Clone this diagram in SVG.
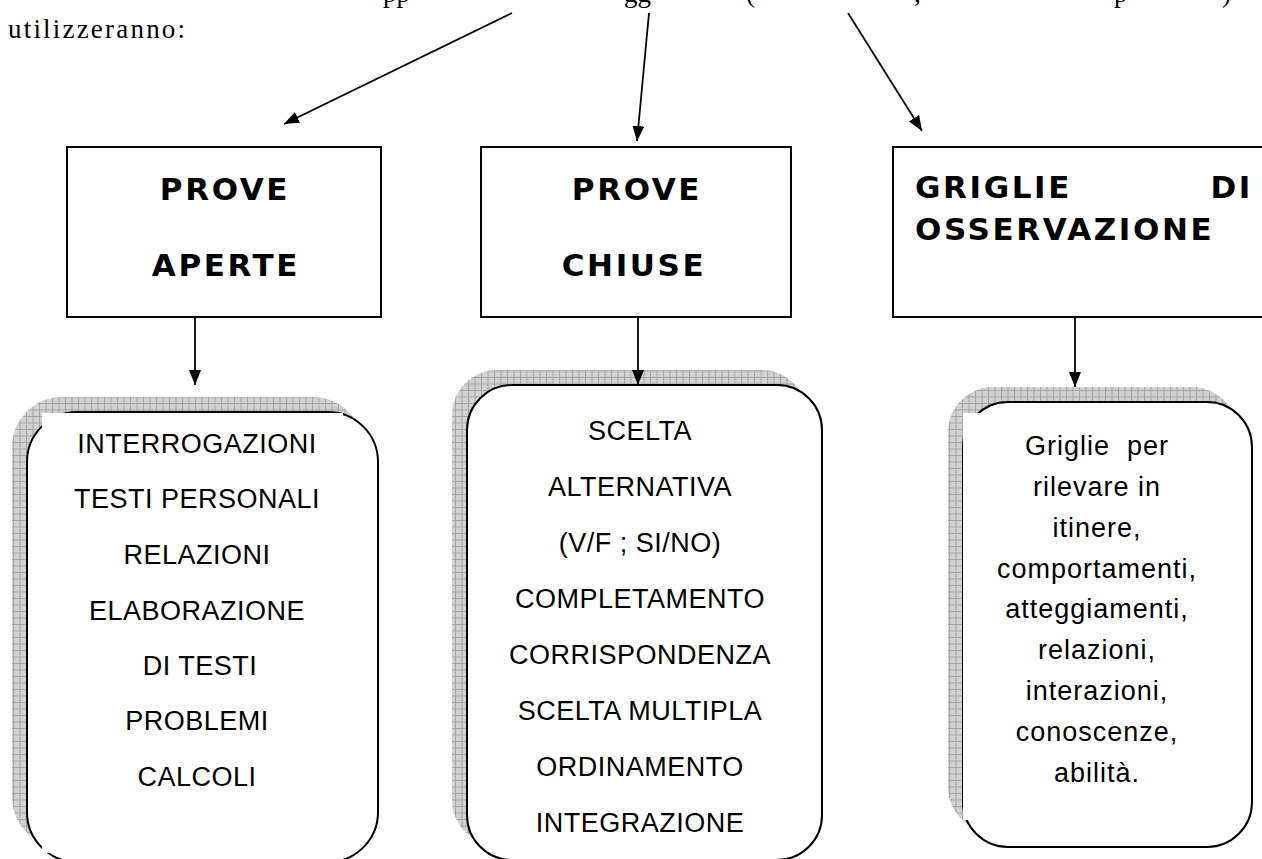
<svg xmlns="http://www.w3.org/2000/svg" width="1262" height="859" viewBox="0 0 1262 859">
<defs>
<pattern id="grid" width="6.5" height="6.5" patternUnits="userSpaceOnUse">
<rect width="6.5" height="6.5" fill="#d2d2d2"/>
<path d="M0 0.5H6.5M0.5 0V6.5" stroke="#a3a3a3" stroke-width="1"/>
</pattern>
<marker id="ah" viewBox="0 0 15 12" refX="15" refY="6" markerWidth="15" markerHeight="12" markerUnits="userSpaceOnUse" orient="auto">
<path d="M0 0L15 6L0 12Z" fill="#000"/>
</marker>
<style>
.serif{font-family:"Book Antiqua","Palatino Linotype","Liberation Serif",serif;font-size:27px;fill:#000}
.hdr{font-family:"Comic Sans MS","DejaVu Sans",sans-serif;font-weight:bold;font-size:31px;letter-spacing:2.6px;fill:#000}
.cap{font-family:"Comic Sans MS","Liberation Sans",sans-serif;font-size:27px;letter-spacing:0.5px;fill:#000;text-anchor:middle}
.low{font-family:"Comic Sans MS","Liberation Sans",sans-serif;font-size:27px;fill:#000;text-anchor:middle;letter-spacing:1px}
.box{fill:#fff;stroke:#000;stroke-width:2}
.shadow{fill:url(#grid)}
.link{stroke:#000;stroke-width:1.8;fill:none;marker-end:url(#ah)}
</style>
</defs>
<rect width="1262" height="859" fill="#fff"/>

<g id="intro">
<text class="serif" x="383" y="2">pp</text>
<text class="serif" x="624" y="2">gg</text>
<text class="serif" x="746" y="2">(</text>
<text class="serif" x="914" y="2">,</text>
<text class="serif" x="1114" y="2">p</text>
<text class="serif" x="1222" y="2">)</text>
<text class="serif" x="8" y="38" font-size="29" letter-spacing="2.2">utilizzeranno:</text>
</g>

<g id="prove-aperte">
<rect class="box" x="67" y="147" width="314" height="170"/>
<text class="hdr" x="225" y="200" text-anchor="middle">PROVE</text>
<text class="hdr" x="226" y="276" text-anchor="middle">APERTE</text>
</g>

<g id="prove-chiuse">
<rect class="box" x="481" y="147" width="310" height="170"/>
<text class="hdr" x="637" y="200" text-anchor="middle">PROVE</text>
<text class="hdr" x="634" y="276" text-anchor="middle">CHIUSE</text>
</g>

<g id="griglie">
<rect class="box" x="893" y="147" width="380" height="170"/>
<text class="hdr" x="915" y="198">GRIGLIE</text>
<text class="hdr" x="1253" y="198" text-anchor="end">DI</text>
<text class="hdr" x="915" y="240">OSSERVAZIONE</text>
</g>

<g id="elenco-aperte">
<rect class="shadow" x="12" y="397" width="351" height="450" rx="50"/>
<rect class="box" x="27" y="412" width="351" height="450" rx="50"/>
<rect x="42" y="413" width="301" height="440" fill="#fff"/>
<text class="cap" x="197" y="453">INTERROGAZIONI</text>
<text class="cap" x="197" y="508">TESTI PERSONALI</text>
<text class="cap" x="197" y="564">RELAZIONI</text>
<text class="cap" x="197" y="620">ELABORAZIONE</text>
<text class="cap" x="200" y="675">DI TESTI</text>
<text class="cap" x="197" y="730">PROBLEMI</text>
<text class="cap" x="197" y="786">CALCOLI</text>
</g>

<g id="elenco-chiuse">
<rect class="shadow" x="452" y="370" width="355" height="475" rx="45"/>
<rect class="box" x="467" y="385" width="355" height="475" rx="45"/>
<text class="cap" x="640" y="440">SCELTA</text>
<text class="cap" x="640" y="496">ALTERNATIVA</text>
<text class="cap" x="640" y="552">(V/F ; SI/NO)</text>
<text class="cap" x="640" y="608">COMPLETAMENTO</text>
<text class="cap" x="640" y="664">CORRISPONDENZA</text>
<text class="cap" x="640" y="720">SCELTA MULTIPLA</text>
<text class="cap" x="640" y="776">ORDINAMENTO</text>
<text class="cap" x="640" y="832">INTEGRAZIONE</text>
</g>

<g id="elenco-griglie">
<rect class="shadow" x="948" y="387" width="289" height="445" rx="45"/>
<rect class="box" x="963" y="402" width="289" height="445" rx="45"/>
<rect x="963" y="413" width="230" height="407" fill="#fff"/>
<text class="low" x="1097" y="455">Griglie&#160; per</text>
<text class="low" x="1097" y="496">rilevare in</text>
<text class="low" x="1097" y="537">itinere,</text>
<text class="low" x="1097" y="578">comportamenti,</text>
<text class="low" x="1097" y="618">atteggiamenti,</text>
<text class="low" x="1097" y="659">relazioni,</text>
<text class="low" x="1097" y="700">interazioni,</text>
<text class="low" x="1097" y="741">conoscenze,</text>
<text class="low" x="1097" y="782">abilità.</text>
</g>

<g id="connectors">
<line class="link" x1="512" y1="13" x2="284" y2="124"/>
<line class="link" x1="649" y1="13" x2="637" y2="141"/>
<line class="link" x1="848" y1="13" x2="922" y2="131"/>
<line class="link" x1="195" y1="317" x2="195" y2="385"/>
<line class="link" x1="638" y1="317" x2="638" y2="385"/>
<line class="link" x1="1075" y1="317" x2="1075" y2="387"/>
</g>
</svg>
